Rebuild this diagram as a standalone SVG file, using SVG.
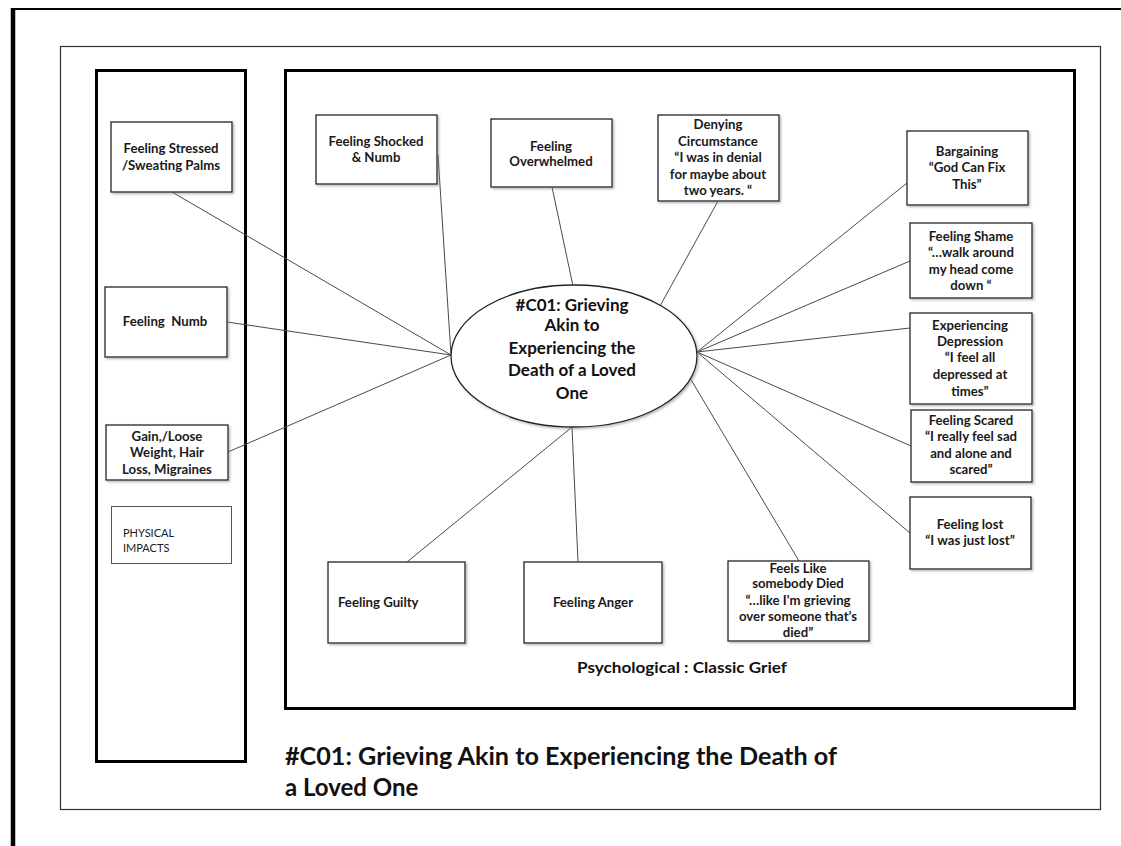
<svg xmlns="http://www.w3.org/2000/svg" width="1121" height="846" viewBox="0 0 1121 846">
  <style>
    .frame { fill: none; stroke: #000; }
    .box { fill: #fff; stroke: #222; stroke-width: 1.3; filter: url(#shadow); }
    .lbl { font-family: Lato, "Liberation Sans", sans-serif; font-weight: bold; font-size: 13.2px; fill: #1a1a1a; text-anchor: middle; }
    .lbl-l { text-anchor: start; }
    .small { font-family: Lato, "Liberation Sans", sans-serif; font-size: 11px; fill: #1a1a1a; }
    .hub { font-family: Lato, "Liberation Sans", sans-serif; font-weight: bold; font-size: 17px; fill: #111; text-anchor: middle; }
    .caption { font-family: Lato, "Liberation Sans", sans-serif; font-weight: bold; font-size: 16px; fill: #111; text-anchor: middle; }
    .title { font-family: Lato, "Liberation Sans", sans-serif; font-weight: bold; font-size: 24px; fill: #111; }
    .conn line { stroke: #4a4a4a; stroke-width: 1; }
  </style>
  <defs>
    <filter id="shadow" x="-10%" y="-10%" width="125%" height="130%">
      <feDropShadow dx="1.5" dy="1.5" stdDeviation="1" flood-color="#888" flood-opacity="0.6"/>
    </filter>
  </defs>

  <rect width="1121" height="846" fill="#fff"/>

  <!-- page edges -->
  <line x1="11" y1="9" x2="1121" y2="9" stroke="#000" stroke-width="2.2"/>
  <line x1="13" y1="8" x2="13" y2="846" stroke="#000" stroke-width="4.5"/>

  <!-- figure border -->
  <rect x="60.5" y="46.5" width="1040" height="763" fill="none" stroke="#333" stroke-width="1.2"/>

  <!-- section frames -->
  <rect class="frame" x="96.5" y="70.5" width="149" height="691" stroke-width="3"/>
  <rect class="frame" x="285.5" y="70.5" width="789" height="638" stroke-width="3"/>

  <!-- connectors -->
  <g id="connectors" class="conn">
    <line x1="172" y1="192" x2="451" y2="355"/>
    <line x1="227" y1="322" x2="451" y2="355"/>
    <line x1="228" y1="452" x2="451" y2="355"/>
    <line x1="438" y1="155" x2="451" y2="355"/>
    <line x1="552" y1="187" x2="573" y2="286"/>
    <line x1="718" y1="201" x2="660" y2="306"/>
    <line x1="907" y1="183" x2="697" y2="352"/>
    <line x1="910" y1="261" x2="697" y2="352"/>
    <line x1="910" y1="328" x2="697" y2="352"/>
    <line x1="911" y1="446" x2="697" y2="352"/>
    <line x1="910" y1="533" x2="697" y2="352"/>
    <line x1="799" y1="561" x2="690" y2="378"/>
    <line x1="407" y1="562" x2="572" y2="427"/>
    <line x1="578" y1="562" x2="572" y2="427"/>
  </g>

  <!-- central theme -->
  <g id="hub">
    <ellipse cx="574" cy="356" rx="123" ry="71" fill="#fff" stroke="#222" stroke-width="1.3" filter="url(#shadow)"/>
    <text class="hub" x="572" y="311">#C01: Grieving</text>
    <text class="hub" x="572" y="331">Akin to</text>
    <text class="hub" x="572" y="354">Experiencing the</text>
    <text class="hub" x="572" y="376">Death of a Loved</text>
    <text class="hub" x="572" y="399">One</text>
  </g>

  <!-- physical impacts -->
  <g id="stressed">
    <rect class="box" x="111" y="122" width="121" height="70"/>
    <text class="lbl" x="171" y="153">Feeling Stressed</text>
    <text class="lbl" x="171" y="170">/Sweating Palms</text>
  </g>
  <g id="numb">
    <rect class="box" x="105" y="287" width="122" height="70"/>
    <text class="lbl" x="165" y="326" xml:space="preserve">Feeling  Numb</text>
  </g>
  <g id="weight">
    <rect class="box" x="106" y="425" width="122" height="55"/>
    <text class="lbl" x="167" y="441">Gain,/Loose</text>
    <text class="lbl" x="167" y="457">Weight, Hair</text>
    <text class="lbl" x="167" y="474">Loss, Migraines</text>
  </g>
  <g id="physical-impacts">
    <rect x="111.5" y="506.5" width="120" height="57" fill="#fff" stroke="#555" stroke-width="1"/>
    <text class="small" x="123" y="537">PHYSICAL</text>
    <text class="small" x="123" y="552">IMPACTS</text>
  </g>

  <!-- psychological: top row -->
  <g id="shocked">
    <rect class="box" x="316" y="115" width="121" height="69"/>
    <text class="lbl" x="376" y="146">Feeling Shocked</text>
    <text class="lbl" x="376" y="162">&amp; Numb</text>
  </g>
  <g id="overwhelmed">
    <rect class="box" x="491" y="119" width="121" height="68"/>
    <text class="lbl" x="551" y="151">Feeling</text>
    <text class="lbl" x="551" y="166">Overwhelmed</text>
  </g>
  <g id="denying">
    <rect class="box" x="658" y="115" width="121" height="86"/>
    <text class="lbl" x="718" y="129">Denying</text>
    <text class="lbl" x="718" y="146">Circumstance</text>
    <text class="lbl" x="718" y="162">“I was in denial</text>
    <text class="lbl" x="718" y="179">for maybe about</text>
    <text class="lbl" x="718" y="195">two years. “</text>
  </g>

  <!-- psychological: right column -->
  <g id="bargaining">
    <rect class="box" x="907" y="131" width="121" height="74"/>
    <text class="lbl" x="967" y="156">Bargaining</text>
    <text class="lbl" x="967" y="172">“God Can Fix</text>
    <text class="lbl" x="967" y="189">This”</text>
  </g>
  <g id="shame">
    <rect class="box" x="910" y="223" width="122" height="75"/>
    <text class="lbl" x="971" y="241">Feeling Shame</text>
    <text class="lbl" x="971" y="257">“…walk around</text>
    <text class="lbl" x="971" y="274">my head come</text>
    <text class="lbl" x="971" y="290">down “</text>
  </g>
  <g id="depression">
    <rect class="box" x="910" y="313" width="122" height="91"/>
    <text class="lbl" x="970" y="330">Experiencing</text>
    <text class="lbl" x="970" y="346">Depression</text>
    <text class="lbl" x="970" y="362">“I feel all</text>
    <text class="lbl" x="970" y="379">depressed at</text>
    <text class="lbl" x="970" y="396">times”</text>
  </g>
  <g id="scared">
    <rect class="box" x="911" y="410" width="121" height="72"/>
    <text class="lbl" x="971" y="425">Feeling Scared</text>
    <text class="lbl" x="971" y="441">“I really feel sad</text>
    <text class="lbl" x="971" y="458">and alone and</text>
    <text class="lbl" x="971" y="474">scared”</text>
  </g>
  <g id="lost">
    <rect class="box" x="910" y="497" width="121" height="72"/>
    <text class="lbl" x="970" y="529">Feeling lost</text>
    <text class="lbl" x="970" y="545">“I was just lost”</text>
  </g>

  <!-- psychological: bottom row -->
  <g id="guilty">
    <rect class="box" x="328" y="562" width="137" height="81"/>
    <text class="lbl lbl-l" x="338" y="607">Feeling Guilty</text>
  </g>
  <g id="anger">
    <rect class="box" x="524" y="562" width="138" height="81"/>
    <text class="lbl" x="593" y="607">Feeling Anger</text>
  </g>
  <g id="somebody-died">
    <rect class="box" x="728" y="561" width="141" height="80"/>
    <text class="lbl" x="798" y="573">Feels Like</text>
    <text class="lbl" x="798" y="588">somebody Died</text>
    <text class="lbl" x="798" y="605">“…like I'm grieving</text>
    <text class="lbl" x="798" y="621">over someone that’s</text>
    <text class="lbl" x="798" y="637">died”</text>
  </g>

  <text class="caption" x="682" y="673" textLength="210" lengthAdjust="spacingAndGlyphs">Psychological : Classic Grief</text>

  <!-- figure title -->
  <text class="title" x="285" y="765" textLength="552" lengthAdjust="spacingAndGlyphs">#C01: Grieving Akin to Experiencing the Death of</text>
  <text class="title" x="285" y="796">a Loved One</text>
</svg>
